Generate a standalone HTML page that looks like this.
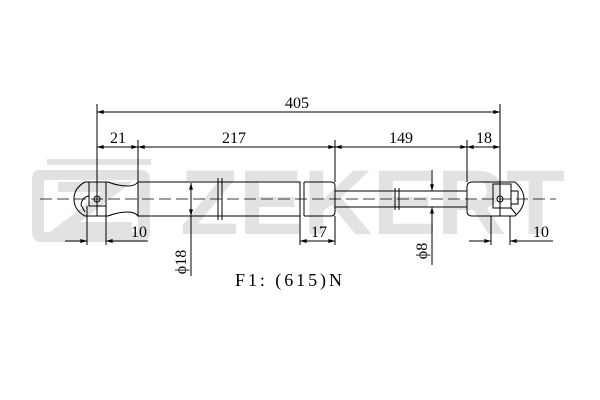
<!DOCTYPE html>
<html><head><meta charset="utf-8"><style>html,body{margin:0;padding:0;background:#fff}svg{display:block}</style></head>
<body>
<svg width="600" height="400" viewBox="0 0 600 400" xmlns="http://www.w3.org/2000/svg">
<defs>
<marker id="a" viewBox="0 0 10 6" refX="10" refY="3" markerWidth="10" markerHeight="4" orient="auto-start-reverse" markerUnits="userSpaceOnUse"><path d="M0,0L10,3L0,6z" fill="#000"/></marker>
</defs>
<g fill="#e2e2e2">
<rect x="47" y="159" width="104" height="6"/>
<path d="M40,170 H140 Q150,170 150,180 V232 Q150,242 140,242 H42 Q32,242 32,232 V180 Q32,170 40,170 Z M44,180 V232 H138 V180 Z" fill-rule="evenodd"/>
<path d="M58,182 H132 L80,222 H132 V232 H50 L102,192 H58 Z"/>
<text x="180" y="234" font-family="Liberation Sans, sans-serif" font-weight="bold" font-size="92" textLength="385" lengthAdjust="spacingAndGlyphs">ZEKERT</text>
</g>
<g stroke="#000" stroke-width="1" fill="none">
<line x1="40" y1="199" x2="556" y2="199" stroke-dasharray="12,5" stroke-width="0.8"/>
<path d="M85,182 Q74,188 74,199 Q74,210 85,216 H108 Q118,212 128,212 Q135,212 138,216 V182 Q135,186 128,186 Q118,186 108,182 Z"/>
<rect x="89" y="182" width="17" height="24"/>
<circle cx="97" cy="199" r="3"/>
<path d="M89,196 Q82,197 81,205 L85,212"/>
<path d="M138,182 H300 V216 H138"/>
<line x1="300" y1="182" x2="300" y2="216"/>
<path d="M304,182 H331 Q335,182 335,186 V212 Q335,216 331,216 H304"/>
<line x1="304" y1="182" x2="304" y2="216"/>
<line x1="218" y1="178" x2="218" y2="220"/><line x1="222" y1="178" x2="222" y2="220"/>
<path d="M335,191 H467 M335,207 H467"/>
<line x1="395" y1="188" x2="395" y2="210"/><line x1="399" y1="188" x2="399" y2="210"/>
<path d="M472,182 H515 Q524,190 524,199 Q524,208 515,216 H472 Q467,216 467,211 V187 Q467,182 472,182 Z"/>
<rect x="493" y="184" width="18" height="24"/>
<circle cx="500" cy="199" r="3"/>
<path d="M511,191 H518 V204 H511 M511,208 L516,214"/>
<line x1="97" y1="104" x2="97" y2="216"/>
<line x1="500" y1="104" x2="500" y2="216"/>
<line x1="138" y1="140" x2="138" y2="182"/>
<line x1="335" y1="140" x2="335" y2="182"/>
<line x1="467" y1="140" x2="467" y2="182"/>
<line x1="87" y1="206" x2="87" y2="245"/><line x1="106" y1="206" x2="106" y2="245"/>
<line x1="491" y1="216" x2="491" y2="245"/><line x1="510" y1="216" x2="510" y2="245"/>
<line x1="300" y1="216" x2="300" y2="245"/><line x1="335" y1="216" x2="335" y2="245"/>
<line x1="97" y1="112" x2="500" y2="112" marker-start="url(#a)" marker-end="url(#a)"/>
<line x1="97" y1="147" x2="138" y2="147" marker-start="url(#a)" marker-end="url(#a)"/>
<line x1="138" y1="147" x2="335" y2="147" marker-start="url(#a)" marker-end="url(#a)"/>
<line x1="335" y1="147" x2="467" y2="147" marker-start="url(#a)" marker-end="url(#a)"/>
<line x1="467" y1="147" x2="500" y2="147" marker-start="url(#a)" marker-end="url(#a)"/>
<line x1="300" y1="241" x2="335" y2="241" marker-start="url(#a)" marker-end="url(#a)"/>
<line x1="65" y1="241" x2="87" y2="241" marker-end="url(#a)"/>
<line x1="118" y1="241" x2="106" y2="241" marker-end="url(#a)"/>
<line x1="106" y1="241" x2="148" y2="241"/>
<line x1="469" y1="241" x2="491" y2="241" marker-end="url(#a)"/>
<line x1="522" y1="241" x2="510" y2="241" marker-end="url(#a)"/>
<line x1="510" y1="241" x2="553" y2="241"/>
<line x1="191" y1="183" x2="191" y2="276" marker-start="url(#a)"/>
<line x1="191" y1="183" x2="191" y2="216" marker-end="url(#a)"/>
<line x1="432" y1="170" x2="432" y2="191" marker-end="url(#a)"/>
<line x1="432" y1="265" x2="432" y2="207" marker-end="url(#a)"/>
</g>
<g font-family="Liberation Serif, serif" font-size="16" fill="#000" text-anchor="middle">
<text x="297" y="108">405</text>
<text x="118" y="143">21</text>
<text x="234" y="143">217</text>
<text x="401" y="143">149</text>
<text x="484" y="143">18</text>
<text x="139" y="237">10</text>
<text x="319" y="237">17</text>
<text x="541" y="237">10</text>
<text x="0" y="0" transform="translate(186,262) rotate(-90)">ϕ18</text>
<text x="0" y="0" transform="translate(427,251) rotate(-90)">ϕ8</text>
<text x="235" y="286" font-size="18" text-anchor="start" textLength="107" lengthAdjust="spacing">F1:  (615)N</text>
</g>
</svg>
</body></html>
